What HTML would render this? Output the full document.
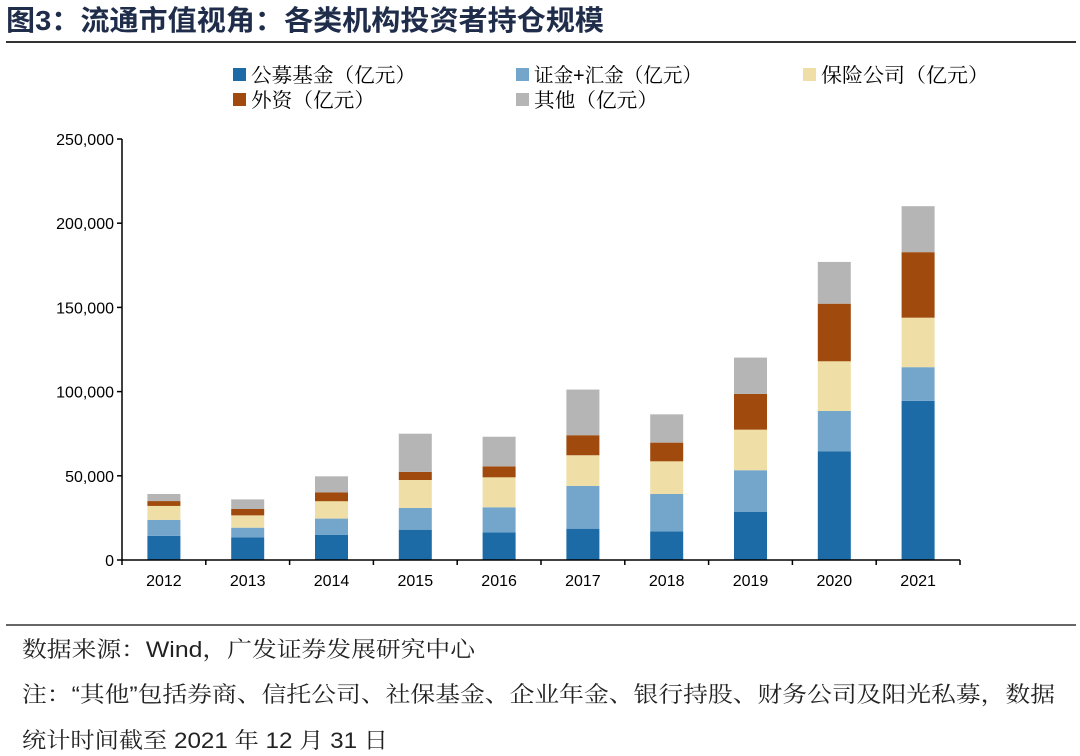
<!DOCTYPE html>
<html><head><meta charset="utf-8"><style>
body{margin:0;background:#fff;}
svg{display:block;}
text{font-family:"Liberation Sans","Noto Sans CJK SC",sans-serif;}
.serif{font-family:"Liberation Sans","Noto Serif CJK SC",serif;}
</style></head><body>
<svg id="c" width="1080" height="756" xmlns="http://www.w3.org/2000/svg">
<text x="6" y="30" font-size="28" font-weight="bold" fill="#1f2d4a" textLength="598" lengthAdjust="spacingAndGlyphs">图3：流通市值视角：各类机构投资者持仓规模</text>
<line x1="6" y1="42" x2="1076" y2="42" stroke="#333" stroke-width="2"/>
<g id="legend"></g>
<g id="grid"></g>
<g id="bars"></g>
<g id="xax"></g>
<line x1="6" y1="625" x2="1076" y2="625" stroke="#333" stroke-width="1.5"/>
<text class="serif" x="22" y="657" font-size="22" fill="#222" textLength="453" lengthAdjust="spacingAndGlyphs">数据来源：Wind，广发证券发展研究中心</text>
<text class="serif" x="22" y="702" font-size="22" fill="#222" textLength="1033" lengthAdjust="spacingAndGlyphs">注：“其他”包括券商、信托公司、社保基金、企业年金、银行持股、财务公司及阳光私募，数据</text>
<text class="serif" x="22" y="748" font-size="22" fill="#222" textLength="366" lengthAdjust="spacingAndGlyphs">统计时间截至 2021 年 12 月 31 日</text>
</svg>
<script>
const years=["2012","2013","2014","2015","2016","2017","2018","2019","2020","2021"];
const fundValues=[14300,13500,15000,18000,16400,18600,17000,28500,64600,94500];
const csfValues=[9500,5700,9600,12900,14900,25400,22200,24800,23900,20000];
const insuranceValues=[8300,7300,10300,16600,17800,18200,19400,24100,29500,29400];
const foreignValues=[2900,3800,5300,4800,6500,11900,11100,21200,34200,38900];
const otherValues=[4200,5700,9500,22700,17600,27100,16800,21600,24800,27300];
const yTicks=[0,50000,100000,150000,200000,250000];
const seriesNames=["公募基金（亿元）","证金+汇金（亿元）","保险公司（亿元）","外资（亿元）","其他（亿元）"];
const series=[fundValues,csfValues,insuranceValues,foreignValues,otherValues];
const colors=["#1c6aa6","#74a6cc","#efdfa6","#a04a0d","#b5b5b5"];
const NS="http://www.w3.org/2000/svg";
const x0=122,x1=960,y0=560,yTop=139,yMax=250000;
const yS=v=>y0-(v/yMax)*(y0-yTop);
const band=(x1-x0)/years.length;
const xC=i=>x0+band*(i+0.5);
function mk(tag,attrs,parent){const e=document.createElementNS(NS,tag);for(const k in attrs)e.setAttribute(k,attrs[k]);parent.appendChild(e);return e;}
const g=document.getElementById('grid'),b=document.getElementById('bars'),xa=document.getElementById('xax'),lg=document.getElementById('legend');
mk('line',{x1:x0,y1:yTop,x2:x0,y2:y0,stroke:'#000','stroke-width':1.5},g);
yTicks.forEach(t=>{
  const l=mk('line',{x1:x0-5,y1:yS(t),x2:x0,y2:yS(t),stroke:'#000','stroke-width':1.5},g);
  
  
  const tx=mk('text',{x:x0-8,y:yS(t)+6,'font-size':16,'text-anchor':'end',fill:'#000'},g);
  tx.textContent=t.toLocaleString('en-US');
  
  
});
mk('line',{x1:x0,y1:y0,x2:x1,y2:y0,stroke:'#000','stroke-width':1.5},xa);
for(let i=0;i<=years.length;i++){mk('line',{x1:x0+band*i,y1:y0,x2:x0+band*i,y2:y0+5,stroke:'#000','stroke-width':1.5},xa);}
years.forEach((yr,i)=>{
  const tx=mk('text',{x:xC(i),y:y0+26,'font-size':16,'text-anchor':'middle',fill:'#000'},xa);
  tx.textContent=yr;
  
  
  let cum=0;
  series.forEach((s,k)=>{
    const v=s[i];
    const r=mk('rect',{x:xC(i)-16.5,y:yS(cum+v),width:33,height:yS(cum)-yS(cum+v),fill:colors[k]},b);
    
    
    cum+=v;
  });
});
const lpos=[[233,82],[516,82],[803,82],[233,107],[516,107]];
const lw=[165,168,168,124,124];
seriesNames.forEach((n,k)=>{
  const [lx,ly]=lpos[k];
  mk('rect',{x:lx,y:ly-14,width:13,height:13,fill:colors[k]},lg);
  const tx=mk('text',{x:lx+18,y:ly,'font-size':20,fill:'#000',class:'serif',textLength:lw[k],lengthAdjust:'spacingAndGlyphs'},lg);
  tx.textContent=n;
  
  
});
</script>
</body></html>
